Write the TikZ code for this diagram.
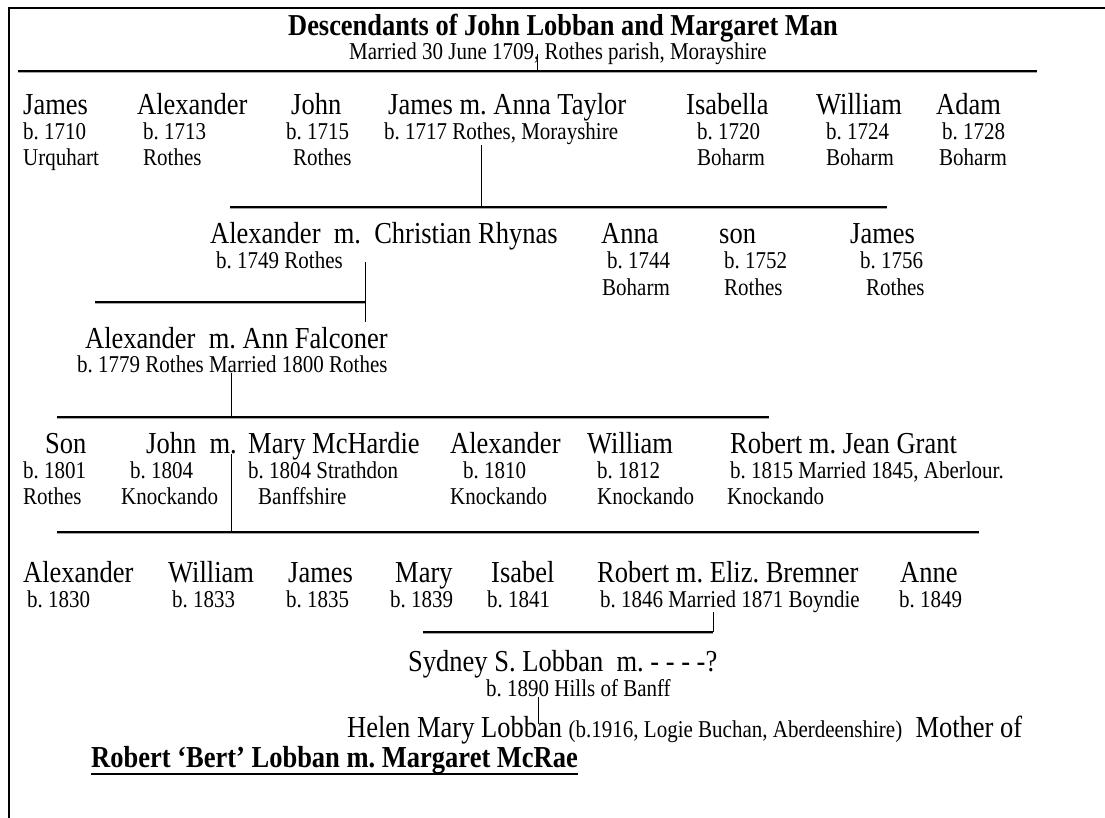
\documentclass[tikz,border=0pt]{standalone}
\usepackage{fontspec}
\setmainfont{Liberation Serif}
\frenchspacing
\tikzset{
  person/.style={font=\fontsize{26.5}{30}\selectfont, anchor=base west, inner sep=0pt, yscale=1.15},
  detail/.style={font=\fontsize{21}{24}\selectfont, anchor=base west, inner sep=0pt, yscale=1.15},
  bus/.style={line width=2.4pt, preaction={draw=black!35, line width=2.4pt, transform canvas={yshift=-1.2pt}}},
  drop/.style={line width=1pt},
}

\begin{document}
\begin{tikzpicture}[x=1pt, y=-1pt]
    \useasboundingbox (0,0) rectangle (1105,818);
    % frame
    \draw [line width=2pt] (1105,8) -- (9,8) -- (9,818);

    % Parents
    \node [person, font=\bfseries\fontsize{26.4}{30}\selectfont] (title) at (288,36) {Descendants of John Lobban and Margaret Man};
    \node [detail] (wedding) at (349,60) {Married 30 June 1709, Rothes parish, Morayshire};
    \coordinate (g1) at (537,71);
    \coordinate (g1w) at (18,71);
    \coordinate (g1e) at (1037,71);
    \draw [drop] (g1) -- (g1 |- wedding.center);
    \draw [bus] (g1w) -- (g1e);

    % Generation 1
    \node [person] (james1) at (23,115) {James};
    \node [person] (alex1) at (137,115) {Alexander};
    \node [person] (john1) at (291,115) {John};
    \node [person] (jamesAnna) at (388,115) {James m. Anna Taylor};
    \node [person] (isabella1) at (686,115) {Isabella};
    \node [person] (william1) at (816,115) {William};
    \node [person] (adam1) at (936,115) {Adam};
    \node [detail] (b1710) at (23,140) {b. 1710};
    \node [detail] (b1713) at (143,140) {b. 1713};
    \node [detail] (b1715) at (286,140) {b. 1715};
    \node [detail] (b1717) at (384,140) {b. 1717 Rothes, Morayshire};
    \node [detail] (b1720) at (697,140) {b. 1720};
    \node [detail] (b1724) at (826,140) {b. 1724};
    \node [detail] (b1728) at (942,140) {b. 1728};
    \node [detail] (p1710) at (23,166) {Urquhart};
    \node [detail] (p1713) at (143,166) {Rothes};
    \node [detail] (p1715) at (293,166) {Rothes};
    \node [detail] (p1720) at (697,166) {Boharm};
    \node [detail] (p1724) at (826,166) {Boharm};
    \node [detail] (p1728) at (939,166) {Boharm};
    \coordinate (g2) at (481,207);
    \coordinate (g2w) at (230,207);
    \coordinate (g2e) at (887,207);
    \draw [drop] (b1717.south -| g2) -- (g2);
    \draw [bus] (g2w) -- (g2e);

    % Generation 2
    \node [person] (alexChristian) at (210,244) {Alexander\ \ m.\ \ Christian Rhynas};
    \node [person] (anna2) at (601,244) {Anna};
    \node [person] (son2) at (719,244) {son};
    \node [person] (james2) at (850,244) {James};
    \node [detail] (b1749) at (216,269) {b. 1749 Rothes};
    \node [detail] (b1744) at (607,269) {b. 1744};
    \node [detail] (b1752) at (724,269) {b. 1752};
    \node [detail] (b1756) at (860,269) {b. 1756};
    \node [detail] (p1744) at (602,295) {Boharm};
    \node [detail] (p1752) at (724,295) {Rothes};
    \node [detail] (p1756) at (866,295) {Rothes};
    \coordinate (g3top) at (365,262);
    \coordinate (g3bot) at (365,322);
    \coordinate (g3) at (365,302);
    \coordinate (g3w) at (95,302);
    \draw [drop] (g3top) -- (g3bot);
    \draw [bus] (g3w) -- (g3);

    % Generation 3
    \node [person] (alexAnn) at (85,348) {Alexander\ \ m. Ann Falconer};
    \node [detail] (b1779) at (77,372) {b. 1779 Rothes Married 1800 Rothes};
    \coordinate (g4) at (231,417);
    \coordinate (g4w) at (57,417);
    \coordinate (g4e) at (769,417);
    \draw [drop] (b1779.south -| g4) -- (g4);
    \draw [bus] (g4w) -- (g4e);

    % Generation 4
    \node [person] (son4) at (45,453) {Son};
    \node [person] (johnMary) at (146,453) {John\ \ m.};
    \node [person] (mary4) at (248,453) {Mary McHardie};
    \node [person] (alex4) at (450,453) {Alexander};
    \node [person] (william4) at (587,453) {William};
    \node [person] (robertJean) at (730,453) {Robert m. Jean Grant};
    \node [detail] (b1801) at (23,478) {b. 1801};
    \node [detail] (b1804) at (130,478) {b. 1804};
    \node [detail] (b1804m) at (248,478) {b. 1804 Strathdon};
    \node [detail] (b1810) at (463,478) {b. 1810};
    \node [detail] (b1812) at (597,478) {b. 1812};
    \node [detail] (b1815) at (730,478) {b. 1815 Married 1845, Aberlour.};
    \node [detail] (p1801) at (23,504) {Rothes};
    \node [detail] (p1804) at (121,504) {Knockando};
    \node [detail] (p1804m) at (258,504) {Banffshire};
    \node [detail] (p1810) at (450,504) {Knockando};
    \node [detail] (p1812) at (597,504) {Knockando};
    \node [detail] (p1815) at (727,504) {Knockando};
    \coordinate (g5) at (231,532);
    \coordinate (g5w) at (57,532);
    \coordinate (g5e) at (979,532);
    \draw [drop] (johnMary.south -| g5) -- (g5);
    \draw [bus] (g5w) -- (g5e);

    % Generation 5
    \node [person] (alex5) at (23,582) {Alexander};
    \node [person] (william5) at (168,582) {William};
    \node [person] (james5) at (288,582) {James};
    \node [person] (mary5) at (395,582) {Mary};
    \node [person] (isabel5) at (491,582) {Isabel};
    \node [person] (robertEliz) at (597,582) {Robert m. Eliz. Bremner};
    \node [person] (anne5) at (900,582) {Anne};
    \node [detail] (b1830) at (27,607) {b. 1830};
    \node [detail] (b1833) at (172,607) {b. 1833};
    \node [detail] (b1835) at (286,607) {b. 1835};
    \node [detail] (b1839) at (390,607) {b. 1839};
    \node [detail] (b1841) at (487,607) {b. 1841};
    \node [detail] (b1846) at (600,607) {b. 1846 Married 1871 Boyndie};
    \node [detail] (b1849) at (899,607) {b. 1849};
    \coordinate (g6) at (713,632);
    \coordinate (g6w) at (423,632);
    \draw [drop] (b1846.south -| g6) -- (g6);
    \draw [bus] (g6w) -- (g6);

    % Generation 6
    \node [person] (sydney) at (408,671) {Sydney S. Lobban\ \ m. - - - -?};
    \node [detail] (b1890) at (486,696) {b. 1890 Hills of Banff};
    \node [person] (helen) at (347,737) {Helen Mary Lobban {\fontsize{21}{24}\selectfont (b.1916, Logie Buchan, Aberdeenshire)}\ \ Mother of};
    \coordinate (g7) at (538,724);
    \draw [drop] (b1890.south -| g7) -- (g7);

    % Bert
    \node [person, font=\bfseries\fontsize{26.5}{30}\selectfont] (bert) at (91,767) {Robert ‘Bert’ Lobban m. Margaret McRae};
    \draw [line width=2.4pt] ([yshift=-7pt]bert.base west) -- ([yshift=-7pt]bert.base east);
\end{tikzpicture}
\end{document}
